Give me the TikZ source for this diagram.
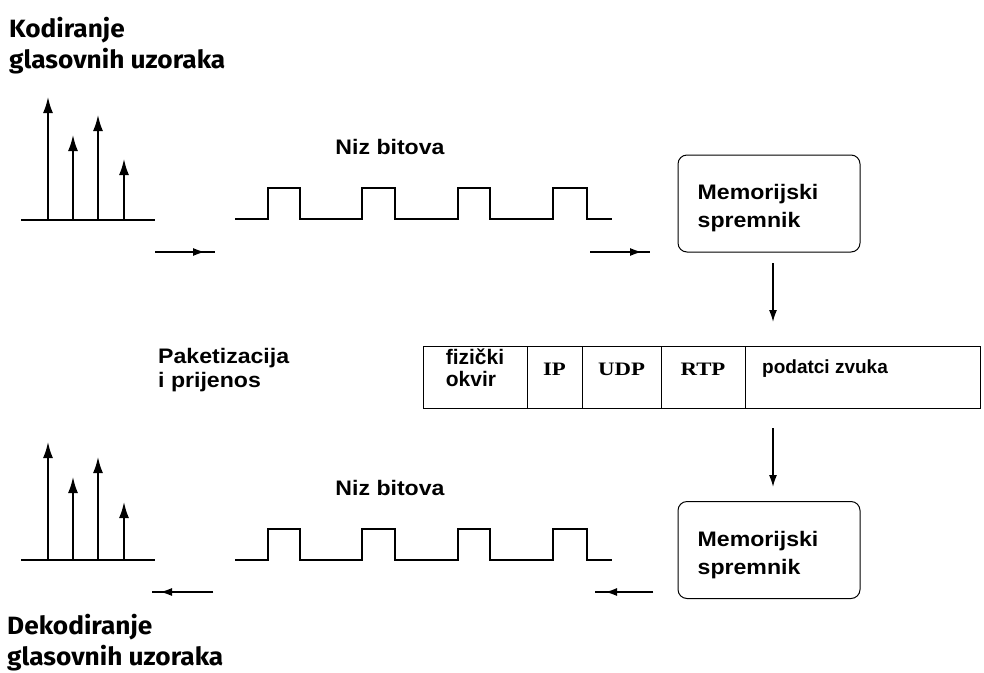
\documentclass[tikz,border=0pt]{standalone}
\usepackage{fontspec}
\setmainfont{Liberation Sans}[FakeStretch=1.1]
\newfontfamily\plainsans{Liberation Sans}
\newfontfamily\capfont{Fira Sans}[FakeStretch=1.05]
\newfontfamily\protofont{Liberation Serif}[FakeStretch=1.2]
\usepackage{tikz}
\usetikzlibrary{arrows.meta,positioning}

\tikzset{
  txt/.style={font=\bfseries\fontsize{21}{28}\selectfont, align=left, inner sep=0pt},
  captxt/.style={font=\capfont\bfseries\fontsize{25}{31}\selectfont, align=left, inner sep=0pt},
  stem/.style={line width=1.8pt, -{Latex[length=16pt,width=10pt]}},
  wave/.style={line width=1.3pt, line join=miter},
  flow/.style={line width=1.6pt, -{Latex[length=12pt,width=8pt]}},
  membox/.style={draw, line width=1pt, rounded corners=9pt, minimum width=182pt,
    minimum height=97pt, inner sep=0pt},
  cell/.style={draw, line width=1pt, minimum height=62pt, inner sep=0pt, outer sep=0pt},
  proto/.style={font=\protofont\bfseries\fontsize{19}{20}\selectfont, inner sep=0pt},
}

\begin{document}
\begin{tikzpicture}[x=1pt,y=-1pt]
  \useasboundingbox (0,0) rectangle (984,672);

  % coding side
  \node[captxt, anchor=north west] (cod) at (9,17) {Kodiranje\\glasovnih uzoraka};
  \draw[line width=1.3pt] (21,220) -- (155,220);
  \foreach \x/\h in {48/97,73/135,98/115,124/159}
    \draw[stem] (\x,220) -- (\x,\h);
  \coordinate (a1s) at (155,252);
  \coordinate (a1e) at (205,252);
  \coordinate (a1f) at (215,252);
  \draw[line width=1.5pt] (a1s) -- (a1f);
  \draw[flow] (a1s) -- (a1e);

  \node[txt, anchor=north] (bits1) at (390,139) {Niz bitova};
  \draw[wave] (235,219) \foreach \a/\b in {268/300,362/395,458/490,553/587}
    { -| (\a,188) -| (\b,219) } -- (612,219);

  \coordinate (a2s) at (590,252);
  \coordinate (a2e) at (642,252);
  \coordinate (a2f) at (650,252);
  \draw[line width=1.5pt] (a2s) -- (a2f);
  \draw[flow] (a2s) -- (a2e);

  \node[membox] (memA) at (769,203.5) {};
  \node[txt, anchor=north west] at ([xshift=20pt,yshift=-30pt]memA.north west) {Memorijski\\spremnik};

  % packet
  \node[txt, anchor=north west] (pak) at (158,348) {Paketizacija\\[-4pt]i prijenos};

  \node[cell, minimum width=104pt] (fiz) at (475,377) {};
  \node[cell, minimum width=55pt, right=0pt of fiz] (ip) {};
  \node[cell, minimum width=79pt, right=0pt of ip] (udp) {};
  \node[cell, minimum width=84pt, right=0pt of udp] (rtp) {};
  \node[cell, minimum width=235pt, right=0pt of rtp] (data) {};
  \node[txt, font=\plainsans\bfseries\fontsize{21}{22}\selectfont] at ([yshift=9pt]fiz.center) {fizički\\okvir};
  \node[proto] at ([yshift=8pt]ip.center) {IP};
  \node[proto] at ([yshift=8pt]udp.center) {UDP};
  \node[proto] at ([yshift=8pt]rtp.center) {RTP};
  \node[txt, font=\plainsans\bfseries\fontsize{19}{22}\selectfont, anchor=west]
    at ([xshift=17pt,yshift=8pt]data.west) {podatci zvuka};

  \coordinate (d1s) at (773,263);
  \coordinate (d1e) at (773,322);
  \draw[flow] (d1s) -- (d1e);
  \coordinate (d2s) at (773,428);
  \coordinate (d2e) at (773,487);
  \draw[flow] (d2s) -- (d2e);

  % decoding side
  \node[membox] (memB) at (769,550) {};
  \node[txt, anchor=north west] at ([xshift=20pt,yshift=-30pt]memB.north west) {Memorijski\\spremnik};

  \coordinate (a3s) at (653,592);
  \coordinate (a3e) at (605,592);
  \coordinate (a3f) at (595,592);
  \draw[line width=1.5pt] (a3s) -- (a3f);
  \draw[flow] (a3s) -- (a3e);

  \node[txt, anchor=north] (bits2) at (390,480) {Niz bitova};
  \draw[wave] (235,560) \foreach \a/\b in {268/300,362/395,458/490,553/587}
    { -| (\a,529) -| (\b,560) } -- (612,560);

  \coordinate (a4s) at (213,592);
  \coordinate (a4e) at (160,592);
  \coordinate (a4f) at (152,592);
  \draw[line width=1.5pt] (a4s) -- (a4f);
  \draw[flow] (a4s) -- (a4e);

  \draw[line width=1.3pt] (21,560) -- (155,560);
  \foreach \x/\h in {48/442,73/477,98/457,124/502}
    \draw[stem] (\x,560) -- (\x,\h);

  \node[captxt, anchor=north west] (dec) at (7,614) {Dekodiranje\\glasovnih uzoraka};
\end{tikzpicture}
\end{document}
